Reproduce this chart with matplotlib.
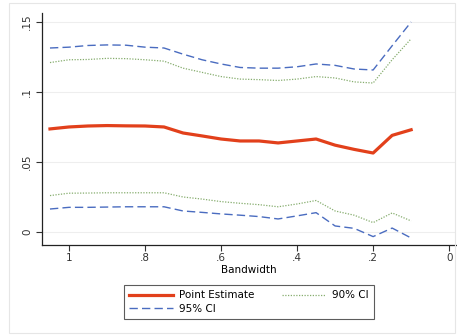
import numpy as np
import matplotlib.pyplot as plt
from matplotlib.patches import Rectangle

# bandwidths and estimates
bandwidth = [1.05, 1.0, 0.95, 0.9, 0.85, 0.8, 0.75, 0.7, 0.65, 0.6,
             0.55, 0.5, 0.45, 0.4, 0.35, 0.3, 0.25, 0.2, 0.15, 0.1]
point_est = [0.0736, 0.0750, 0.0757, 0.0760, 0.0758, 0.0757, 0.0750, 0.0707, 0.0686, 0.0664,
             0.0650, 0.0650, 0.0636, 0.0650, 0.0664, 0.0620, 0.0590, 0.0564, 0.0690, 0.0730]
ci95_hi = [0.1314, 0.1320, 0.1332, 0.1336, 0.1334, 0.1320, 0.1314, 0.1270, 0.1230, 0.1200,
           0.1175, 0.1170, 0.1170, 0.1180, 0.1200, 0.1190, 0.1164, 0.1157, 0.1330, 0.1500]
ci95_lo = [0.0164, 0.0176, 0.0176, 0.0178, 0.0180, 0.0180, 0.0180, 0.0150, 0.0140, 0.0129,
           0.0120, 0.0110, 0.0093, 0.0115, 0.0138, 0.0043, 0.0026, -0.0033, 0.0028, -0.0043]
ci90_hi = [0.1210, 0.1230, 0.1232, 0.1240, 0.1238, 0.1230, 0.1220, 0.1170, 0.1140, 0.1110,
           0.1092, 0.1088, 0.1082, 0.1092, 0.1110, 0.1100, 0.1072, 0.1064, 0.1230, 0.1380]
ci90_lo = [0.0260, 0.0277, 0.0278, 0.0280, 0.0280, 0.0280, 0.0280, 0.0250, 0.0235, 0.0217,
           0.0205, 0.0195, 0.0180, 0.0200, 0.0225, 0.0150, 0.0120, 0.0067, 0.0136, 0.0079]

xticks = [1, 0.8, 0.6, 0.4, 0.2, 0]
xticklabels = ["1", ".8", ".6", ".4", ".2", "0"]
yticks = [0, 0.05, 0.1, 0.15]
yticklabels = ["0", ".05", ".1", ".15"]

red = "#e2401b"
blue = "#4a6cc0"
green = "#86ad6e"

fig = plt.figure(figsize=(4.57, 3.35), dpi=100)
fig.patches.append(Rectangle((9 / 457, 0.005), 446 / 457, 0.985, transform=fig.transFigure,
                             fill=False, edgecolor="#e6e6e6", linewidth=0.8))
ax = fig.add_axes([42 / 457, 90 / 335, 414 / 457, 232 / 335])

ax.plot(bandwidth, point_est, color=red, linewidth=2.3, label="Point Estimate")
ax.plot(bandwidth, ci95_hi, color=blue, linewidth=1.0, linestyle=(0, (6, 3)), label="95% CI")
ax.plot(bandwidth, ci95_lo, color=blue, linewidth=1.0, linestyle=(0, (6, 3)))
ax.plot(bandwidth, ci90_hi, color=green, linewidth=0.9, linestyle=(0, (1, 1.2)), label="90% CI")
ax.plot(bandwidth, ci90_lo, color=green, linewidth=0.9, linestyle=(0, (1, 1.2)))

ax.set_xlim(1.071, -0.018)
ax.set_ylim(-0.0093, 0.1564)
ax.set_xticks(xticks)
ax.set_xticklabels(xticklabels)
ax.set_yticks(yticks)
ax.set_yticklabels(yticklabels, rotation=90, va="center")
ax.tick_params(direction="out", length=4, width=0.8, labelsize=7.5, colors="#333333", pad=2)
ax.tick_params(axis="y", pad=3)
ax.grid(axis="y", color="#eeeeee", linewidth=0.8)
ax.set_axisbelow(True)
for side in ["top", "right"]:
    ax.spines[side].set_visible(False)
for side in ["left", "bottom"]:
    ax.spines[side].set_linewidth(0.9)
    ax.spines[side].set_color("#222222")

ax.set_xlabel("Bandwidth", fontsize=7.5, labelpad=1)

h, l = ax.get_legend_handles_labels()
leg = fig.legend(h, l, ncol=2, loc="center", bbox_to_anchor=(249 / 457, 1 - 302 / 335),
                 fontsize=7.5, frameon=True, fancybox=False, edgecolor="#333333",
                 handlelength=4.2, columnspacing=2.6, borderpad=0.55, labelspacing=0.3,
                 handletextpad=0.6)
leg.get_frame().set_linewidth(0.8)

fig.savefig("out.png", dpi=100)
